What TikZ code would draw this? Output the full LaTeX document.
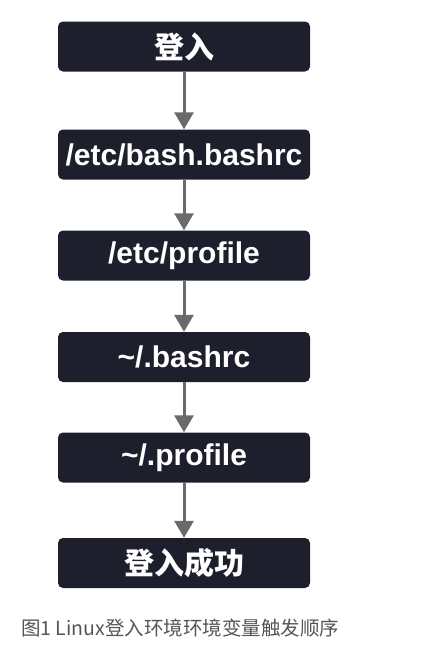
\documentclass[tikz,border=0pt]{standalone}
\usepackage{fontspec}
\usepackage{xcolor}
\usetikzlibrary{arrows.meta}
\setmainfont{Liberation Sans}
\newfontfamily\cjk{Noto Sans CJK SC}

\definecolor{boxfill}{HTML}{1E1F2C}
\definecolor{arrowgray}{HTML}{6A6A6A}
\definecolor{captiongray}{HTML}{555555}

\tikzset{
    stepbox/.style={fill=boxfill, rounded corners=5pt,
        minimum width=252pt, minimum height=50pt, inner sep=0pt,
        text=white, font=\fontsize{30}{33}\selectfont\bfseries},
    flow/.style={draw=arrowgray, line width=3pt,
        -{Triangle[width=19pt,length=17pt]}}
}

\begin{document}
\begin{tikzpicture}[x=1pt, y=-1pt]

% Page frame
\useasboundingbox (0,0) rectangle (431,656);

% Box column centre
\def\colX{184}

% Steps, top to bottom
\node[stepbox] (login)   at (\colX, 46.5) {\cjk\bfseries 登入};
\node[stepbox] (bashrc)  at (\colX, 154.5) {/etc/bash.bashrc};
\node[stepbox] (profile) at (\colX, 255.5) {/etc/profile};
\node[stepbox] (ubashrc) at (\colX, 357) {\char`\~/.bashrc};
\node[stepbox] (uprof)   at (\colX, 457.5) {\char`\~/.profile};
\node[stepbox] (done)    at (\colX, 563) {\cjk\bfseries 登入成功};

% Arrows
\draw[flow] (login) -- (bashrc);
\draw[flow] (bashrc) -- (profile);
\draw[flow] (profile) -- (ubashrc);
\draw[flow] (ubashrc) -- (uprof);
\draw[flow] (uprof) -- (done);

% Caption
\node[anchor=west, inner sep=0pt, text=captiongray,
      font=\cjk\fontsize{19.5}{21}\selectfont] (caption) at (21, 628)
    {图1 Linux登入环境环境变量触发顺序};

\end{tikzpicture}
\end{document}
